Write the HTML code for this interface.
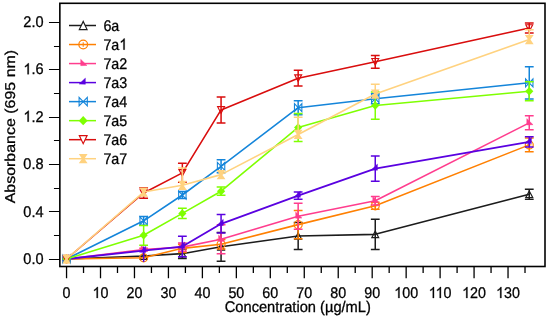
<!DOCTYPE html>
<html><head><meta charset="utf-8"><style>
html,body{margin:0;padding:0;background:#fff;}
svg{display:block;position:absolute;left:0;top:0;font-family:"Liberation Sans",sans-serif;font-size:15.4px;fill:#000;text-rendering:geometricPrecision;}
text{stroke:#000;stroke-width:0.3px;}
</style></head><body>
<svg width="550" height="320" viewBox="0 0 550 320">
<rect width="550" height="320" fill="#fff"/>
<g opacity="0.999">
<path d="M66.55,266.5 v11.7 M83.53,266.5 v6.5 M100.51,266.5 v11.7 M117.49,266.5 v6.5 M134.47,266.5 v11.7 M151.45,266.5 v6.5 M168.43,266.5 v11.7 M185.41,266.5 v6.5 M202.39,266.5 v11.7 M219.37,266.5 v6.5 M236.35,266.5 v11.7 M253.33,266.5 v6.5 M270.31,266.5 v11.7 M287.29,266.5 v6.5 M304.27,266.5 v11.7 M321.25,266.5 v6.5 M338.23,266.5 v11.7 M355.21,266.5 v6.5 M372.19,266.5 v11.7 M389.17,266.5 v6.5 M406.15,266.5 v11.7 M423.13,266.5 v6.5 M440.11,266.5 v11.7 M457.09,266.5 v6.5 M474.07,266.5 v11.7 M491.05,266.5 v6.5 M508.03,266.5 v11.7 M525.01,266.5 v6.5" stroke="#000" stroke-width="1.3" fill="none"/>
<path d="M59.85,259.50 h-10.9 M59.85,235.50 h-5.9 M59.85,211.50 h-10.9 M59.85,188.50 h-5.9 M59.85,164.50 h-10.9 M59.85,140.50 h-5.9 M59.85,117.50 h-10.9 M59.85,93.50 h-5.9 M59.85,69.50 h-10.9 M59.85,46.50 h-5.9 M59.85,22.50 h-10.9" stroke="#000" stroke-width="1.05" fill="none"/>
<text transform="translate(66.55,298.00) scale(0.93,1)" text-anchor="middle">0</text>
<g aria-label="10"><path transform="translate(92.54,298.00) scale(0.00699,-0.00752)" d="M763 0H583V1147Q518 1085 412.5 1023T223 930V1104Q373 1174.5 485 1275T647 1466H763Z" fill="#000" stroke="#000" stroke-width="40"/><text transform="translate(100.51,298.00) scale(0.93,1)">0</text></g>
<text transform="translate(134.47,298.00) scale(0.93,1)" text-anchor="middle">20</text>
<text transform="translate(168.43,298.00) scale(0.93,1)" text-anchor="middle">30</text>
<text transform="translate(202.39,298.00) scale(0.93,1)" text-anchor="middle">40</text>
<text transform="translate(236.35,298.00) scale(0.93,1)" text-anchor="middle">50</text>
<text transform="translate(270.31,298.00) scale(0.93,1)" text-anchor="middle">60</text>
<text transform="translate(304.27,298.00) scale(0.93,1)" text-anchor="middle">70</text>
<text transform="translate(338.23,298.00) scale(0.93,1)" text-anchor="middle">80</text>
<text transform="translate(372.19,298.00) scale(0.93,1)" text-anchor="middle">90</text>
<g aria-label="100"><path transform="translate(394.20,298.00) scale(0.00699,-0.00752)" d="M763 0H583V1147Q518 1085 412.5 1023T223 930V1104Q373 1174.5 485 1275T647 1466H763Z" fill="#000" stroke="#000" stroke-width="40"/><text transform="translate(402.17,298.00) scale(0.93,1)">00</text></g>
<g aria-label="110"><path transform="translate(428.69,298.00) scale(0.00699,-0.00752)" d="M763 0H583V1147Q518 1085 412.5 1023T223 930V1104Q373 1174.5 485 1275T647 1466H763Z" fill="#000" stroke="#000" stroke-width="40"/><path transform="translate(435.60,298.00) scale(0.00699,-0.00752)" d="M763 0H583V1147Q518 1085 412.5 1023T223 930V1104Q373 1174.5 485 1275T647 1466H763Z" fill="#000" stroke="#000" stroke-width="40"/><text transform="translate(443.56,298.00) scale(0.93,1)">0</text></g>
<g aria-label="120"><path transform="translate(462.12,298.00) scale(0.00699,-0.00752)" d="M763 0H583V1147Q518 1085 412.5 1023T223 930V1104Q373 1174.5 485 1275T647 1466H763Z" fill="#000" stroke="#000" stroke-width="40"/><text transform="translate(470.09,298.00) scale(0.93,1)">20</text></g>
<g aria-label="130"><path transform="translate(496.08,298.00) scale(0.00699,-0.00752)" d="M763 0H583V1147Q518 1085 412.5 1023T223 930V1104Q373 1174.5 485 1275T647 1466H763Z" fill="#000" stroke="#000" stroke-width="40"/><text transform="translate(504.05,298.00) scale(0.93,1)">30</text></g>
<text transform="translate(43.60,263.90) scale(0.945,1)" text-anchor="end">0.0</text>
<text transform="translate(43.60,216.50) scale(0.945,1)" text-anchor="end">0.4</text>
<text transform="translate(43.60,169.10) scale(0.945,1)" text-anchor="end">0.8</text>
<g aria-label="1.2"><path transform="translate(23.37,121.70) scale(0.00711,-0.00752)" d="M763 0H583V1147Q518 1085 412.5 1023T223 930V1104Q373 1174.5 485 1275T647 1466H763Z" fill="#000" stroke="#000" stroke-width="40"/><text transform="translate(31.46,121.70) scale(0.945,1)">.2</text></g>
<g aria-label="1.6"><path transform="translate(23.37,74.30) scale(0.00711,-0.00752)" d="M763 0H583V1147Q518 1085 412.5 1023T223 930V1104Q373 1174.5 485 1275T647 1466H763Z" fill="#000" stroke="#000" stroke-width="40"/><text transform="translate(31.46,74.30) scale(0.945,1)">.6</text></g>
<text transform="translate(43.60,26.90) scale(0.945,1)" text-anchor="end">2.0</text>
<text transform="translate(297.80,311.90) scale(0.952,1)" text-anchor="middle">Concentration (µg/mL)</text>
<text transform="translate(14.8,126.6) scale(0.93,1.037) rotate(-90)" text-anchor="middle">Absorbance (695 nm)</text>
<polyline points="66.55,259.00 143.64,256.04 182.35,253.67 221.07,246.79 298.16,236.01 375.25,234.35 529.25,194.18" fill="none" stroke="#1c1c1c" stroke-width="1.6" stroke-linejoin="round"/>
<path d="M63.10,262.28 L70.00,262.28 L66.55,255.72 Z" fill="none" stroke="#1c1c1c" stroke-width="1.15"/>
<path d="M140.19,259.32 L147.09,259.32 L143.64,252.76 Z" fill="none" stroke="#1c1c1c" stroke-width="1.15"/>
<path d="M178.90,256.95 L185.80,256.95 L182.35,250.39 Z" fill="none" stroke="#1c1c1c" stroke-width="1.15"/>
<path d="M217.62,250.07 L224.52,250.07 L221.07,243.51 Z" fill="none" stroke="#1c1c1c" stroke-width="1.15"/>
<path d="M294.71,239.29 L301.61,239.29 L298.16,232.73 Z" fill="none" stroke="#1c1c1c" stroke-width="1.15"/>
<path d="M371.80,237.63 L378.70,237.63 L375.25,231.07 Z" fill="none" stroke="#1c1c1c" stroke-width="1.15"/>
<path d="M525.80,197.46 L532.71,197.46 L529.25,190.90 Z" fill="none" stroke="#1c1c1c" stroke-width="1.15"/>
<path d="M182.35,248.93 V258.41 M177.95,248.93 h8.8 M177.95,258.41 h8.8 M221.07,232.46 V261.13 M216.67,232.46 h8.8 M216.67,261.13 h8.8 M298.16,222.62 V249.40 M293.76,222.62 h8.8 M293.76,249.40 h8.8 M375.25,219.18 V249.52 M370.85,219.18 h8.8 M370.85,249.52 h8.8 M529.25,189.20 V199.16 M524.86,189.20 h8.8 M524.86,199.16 h8.8" stroke="#1c1c1c" stroke-width="1.5" fill="none"/>
<polyline points="66.55,259.00 143.64,257.81 182.35,248.34 221.07,244.19 298.16,224.63 375.25,205.79 529.25,144.88" fill="none" stroke="#FF8000" stroke-width="1.6" stroke-linejoin="round"/>
<circle cx="66.55" cy="259.00" r="4.0" fill="none" stroke="#FF8000" stroke-width="1.2"/><path d="M66.55,256.70 V261.30 M64.25,259.00 H68.85" stroke="#FF8000" stroke-width="1"/>
<circle cx="143.64" cy="257.81" r="4.0" fill="none" stroke="#FF8000" stroke-width="1.2"/><path d="M143.64,255.51 V260.12 M141.34,257.81 H145.94" stroke="#FF8000" stroke-width="1"/>
<circle cx="182.35" cy="248.34" r="4.0" fill="none" stroke="#FF8000" stroke-width="1.2"/><path d="M182.35,246.03 V250.64 M180.05,248.34 H184.65" stroke="#FF8000" stroke-width="1"/>
<circle cx="221.07" cy="244.19" r="4.0" fill="none" stroke="#FF8000" stroke-width="1.2"/><path d="M221.07,241.89 V246.49 M218.77,244.19 H223.37" stroke="#FF8000" stroke-width="1"/>
<circle cx="298.16" cy="224.63" r="4.0" fill="none" stroke="#FF8000" stroke-width="1.2"/><path d="M298.16,222.33 V226.94 M295.86,224.63 H300.46" stroke="#FF8000" stroke-width="1"/>
<circle cx="375.25" cy="205.79" r="4.0" fill="none" stroke="#FF8000" stroke-width="1.2"/><path d="M375.25,203.49 V208.09 M372.95,205.79 H377.55" stroke="#FF8000" stroke-width="1"/>
<circle cx="529.25" cy="144.88" r="4.0" fill="none" stroke="#FF8000" stroke-width="1.2"/><path d="M529.25,142.58 V147.18 M526.96,144.88 H531.55" stroke="#FF8000" stroke-width="1"/>
<path d="M182.35,244.19 V252.48 M177.95,244.19 h8.8 M177.95,252.48 h8.8 M221.07,239.45 V248.93 M216.67,239.45 h8.8 M216.67,248.93 h8.8 M298.16,210.42 V238.85 M293.76,210.42 h8.8 M293.76,238.85 h8.8 M375.25,202.24 V209.35 M370.85,202.24 h8.8 M370.85,209.35 h8.8 M529.25,138.01 V151.76 M524.86,138.01 h8.8 M524.86,151.76 h8.8" stroke="#FF8000" stroke-width="1.5" fill="none"/>
<polyline points="66.55,259.00 143.64,249.52 182.35,247.15 221.07,239.33 298.16,216.22 375.25,200.70 529.25,122.84" fill="none" stroke="#FF3D8E" stroke-width="1.6" stroke-linejoin="round"/>
<path d="M64.05,254.70 L64.05,261.10 L70.35,260.90 Z" fill="#FF3D8E" stroke="#FF3D8E" stroke-width="0.4"/>
<path d="M141.14,245.22 L141.14,251.62 L147.44,251.42 Z" fill="#FF3D8E" stroke="#FF3D8E" stroke-width="0.4"/>
<path d="M179.85,242.85 L179.85,249.25 L186.15,249.05 Z" fill="#FF3D8E" stroke="#FF3D8E" stroke-width="0.4"/>
<path d="M218.57,235.03 L218.57,241.43 L224.87,241.23 Z" fill="#FF3D8E" stroke="#FF3D8E" stroke-width="0.4"/>
<path d="M295.66,211.92 L295.66,218.32 L301.96,218.12 Z" fill="#FF3D8E" stroke="#FF3D8E" stroke-width="0.4"/>
<path d="M372.75,196.40 L372.75,202.80 L379.05,202.60 Z" fill="#FF3D8E" stroke="#FF3D8E" stroke-width="0.4"/>
<path d="M526.75,118.54 L526.75,124.94 L533.05,124.74 Z" fill="#FF3D8E" stroke="#FF3D8E" stroke-width="0.4"/>
<path d="M143.64,248.34 V250.71 M139.24,248.34 h8.8 M139.24,250.71 h8.8 M182.35,243.00 V251.30 M177.95,243.00 h8.8 M177.95,251.30 h8.8 M221.07,224.87 V253.79 M216.67,224.87 h8.8 M216.67,253.79 h8.8 M298.16,203.19 V229.26 M293.76,203.19 h8.8 M293.76,229.26 h8.8 M375.25,196.43 V204.96 M370.85,196.43 h8.8 M370.85,204.96 h8.8 M529.25,115.85 V129.83 M524.86,115.85 h8.8 M524.86,129.83 h8.8" stroke="#FF3D8E" stroke-width="1.5" fill="none"/>
<polyline points="66.55,259.00 143.64,250.71 182.35,246.56 221.07,223.81 298.16,195.60 375.25,168.58 529.25,141.80" fill="none" stroke="#5A00E0" stroke-width="1.8" stroke-linejoin="round"/>
<path d="M68.75,254.50 L68.75,260.70 L62.45,260.50 Z" fill="#5A00E0" stroke="#5A00E0" stroke-width="0.4"/>
<path d="M145.84,246.21 L145.84,252.41 L139.54,252.21 Z" fill="#5A00E0" stroke="#5A00E0" stroke-width="0.4"/>
<path d="M184.55,242.06 L184.55,248.26 L178.25,248.06 Z" fill="#5A00E0" stroke="#5A00E0" stroke-width="0.4"/>
<path d="M223.27,219.31 L223.27,225.51 L216.97,225.31 Z" fill="#5A00E0" stroke="#5A00E0" stroke-width="0.4"/>
<path d="M300.36,191.10 L300.36,197.30 L294.06,197.10 Z" fill="#5A00E0" stroke="#5A00E0" stroke-width="0.4"/>
<path d="M377.45,164.08 L377.45,170.28 L371.15,170.08 Z" fill="#5A00E0" stroke="#5A00E0" stroke-width="0.4"/>
<path d="M531.46,137.30 L531.46,143.50 L525.15,143.30 Z" fill="#5A00E0" stroke="#5A00E0" stroke-width="0.4"/>
<path d="M143.64,246.56 V261.96 M182.35,236.25 V256.87 M177.95,236.25 h8.8 M177.95,256.87 h8.8 M221.07,214.56 V233.05 M216.67,214.56 h8.8 M216.67,233.05 h8.8 M298.16,192.05 V199.16 M293.76,192.05 h8.8 M293.76,199.16 h8.8 M375.25,156.02 V181.15 M370.85,156.02 h8.8 M370.85,181.15 h8.8 M529.25,136.71 V146.90 M524.86,136.71 h8.8 M524.86,146.90 h8.8" stroke="#5A00E0" stroke-width="1.5" fill="none"/>
<polyline points="66.55,259.00 143.64,220.84 182.35,195.01 221.07,166.33 298.16,107.68 375.25,98.67 529.25,82.79" fill="none" stroke="#1485DA" stroke-width="1.6" stroke-linejoin="round"/>
<path d="M62.85,255.00 L62.85,263.00 L70.25,255.00 L70.25,263.00 Z" fill="none" stroke="#1485DA" stroke-width="1.1"/>
<path d="M139.94,216.84 L139.94,224.84 L147.34,216.84 L147.34,224.84 Z" fill="none" stroke="#1485DA" stroke-width="1.1"/>
<path d="M178.65,191.01 L178.65,199.01 L186.05,191.01 L186.05,199.01 Z" fill="none" stroke="#1485DA" stroke-width="1.1"/>
<path d="M217.37,162.33 L217.37,170.33 L224.77,162.33 L224.77,170.33 Z" fill="none" stroke="#1485DA" stroke-width="1.1"/>
<path d="M294.46,103.68 L294.46,111.68 L301.86,103.68 L301.86,111.68 Z" fill="none" stroke="#1485DA" stroke-width="1.1"/>
<path d="M371.55,94.67 L371.55,102.67 L378.95,94.67 L378.95,102.67 Z" fill="none" stroke="#1485DA" stroke-width="1.1"/>
<path d="M525.55,78.79 L525.55,86.79 L532.96,78.79 L532.96,86.79 Z" fill="none" stroke="#1485DA" stroke-width="1.1"/>
<path d="M143.64,216.46 V225.23 M139.24,216.46 h8.8 M139.24,225.23 h8.8 M182.35,191.45 V198.56 M177.95,191.45 h8.8 M177.95,198.56 h8.8 M221.07,159.82 V172.85 M216.67,159.82 h8.8 M216.67,172.85 h8.8 M298.16,100.68 V114.67 M293.76,100.68 h8.8 M293.76,114.67 h8.8 M375.25,93.69 V103.65 M370.85,93.69 h8.8 M370.85,103.65 h8.8 M529.25,66.67 V98.91 M524.86,66.67 h8.8 M524.86,98.91 h8.8" stroke="#1485DA" stroke-width="1.5" fill="none"/>
<polyline points="66.55,259.00 143.64,235.30 182.35,213.38 221.07,191.22 298.16,127.46 375.25,105.54 529.25,91.32" fill="none" stroke="#7FFF00" stroke-width="1.6" stroke-linejoin="round"/>
<path d="M62.45,259.00 L66.55,254.80 L70.65,259.00 L66.55,263.20 Z" fill="#7FFF00"/>
<path d="M139.54,235.30 L143.64,231.10 L147.74,235.30 L143.64,239.50 Z" fill="#7FFF00"/>
<path d="M178.25,213.38 L182.35,209.18 L186.45,213.38 L182.35,217.58 Z" fill="#7FFF00"/>
<path d="M216.97,191.22 L221.07,187.02 L225.17,191.22 L221.07,195.42 Z" fill="#7FFF00"/>
<path d="M294.06,127.46 L298.16,123.26 L302.26,127.46 L298.16,131.66 Z" fill="#7FFF00"/>
<path d="M371.15,105.54 L375.25,101.34 L379.35,105.54 L375.25,109.74 Z" fill="#7FFF00"/>
<path d="M525.15,91.32 L529.25,87.12 L533.36,91.32 L529.25,95.52 Z" fill="#7FFF00"/>
<path d="M143.64,225.46 V245.14 M139.24,225.46 h8.8 M139.24,245.14 h8.8 M182.35,208.28 V218.47 M177.95,208.28 h8.8 M177.95,218.47 h8.8 M221.07,187.07 V195.37 M216.67,187.07 h8.8 M216.67,195.37 h8.8 M298.16,113.48 V141.45 M293.76,113.48 h8.8 M293.76,141.45 h8.8 M375.25,91.92 V119.17 M370.85,91.92 h8.8 M370.85,119.17 h8.8 M529.25,81.84 V100.80 M524.86,81.84 h8.8 M524.86,100.80 h8.8" stroke="#7FFF00" stroke-width="1.5" fill="none"/>
<polyline points="66.55,259.00 143.64,193.00 182.35,172.85 221.07,109.93 298.16,78.17 375.25,61.82 529.25,28.04" fill="none" stroke="#D90D0D" stroke-width="1.6" stroke-linejoin="round"/>
<path d="M63.10,255.72 L70.00,255.72 L66.55,262.28 Z" fill="none" stroke="#D90D0D" stroke-width="1.15"/>
<path d="M140.19,189.72 L147.09,189.72 L143.64,196.28 Z" fill="none" stroke="#D90D0D" stroke-width="1.15"/>
<path d="M178.90,169.57 L185.80,169.57 L182.35,176.13 Z" fill="none" stroke="#D90D0D" stroke-width="1.15"/>
<path d="M217.62,106.65 L224.52,106.65 L221.07,113.21 Z" fill="none" stroke="#D90D0D" stroke-width="1.15"/>
<path d="M294.71,74.89 L301.61,74.89 L298.16,81.45 Z" fill="none" stroke="#D90D0D" stroke-width="1.15"/>
<path d="M371.80,58.54 L378.70,58.54 L375.25,65.10 Z" fill="none" stroke="#D90D0D" stroke-width="1.15"/>
<path d="M525.80,24.76 L532.71,24.76 L529.25,31.32 Z" fill="none" stroke="#D90D0D" stroke-width="1.15"/>
<path d="M143.64,187.66 V198.33 M139.24,187.66 h8.8 M139.24,198.33 h8.8 M182.35,163.37 V182.33 M177.95,163.37 h8.8 M177.95,182.33 h8.8 M221.07,96.89 V122.96 M216.67,96.89 h8.8 M216.67,122.96 h8.8 M298.16,70.35 V85.99 M293.76,70.35 h8.8 M293.76,85.99 h8.8 M375.25,55.42 V68.22 M370.85,55.42 h8.8 M370.85,68.22 h8.8 M529.25,23.07 V33.02 M524.86,23.07 h8.8 M524.86,33.02 h8.8" stroke="#D90D0D" stroke-width="1.5" fill="none"/>
<polyline points="66.55,259.00 143.64,192.05 182.35,185.29 221.07,174.63 298.16,134.46 375.25,94.05 529.25,39.54" fill="none" stroke="#FFD27F" stroke-width="1.6" stroke-linejoin="round"/>
<path d="M62.15,254.40 L70.95,254.40 L67.75,259.00 L70.95,263.60 L62.15,263.60 L65.35,259.00 Z" fill="#FFD27F"/>
<path d="M139.24,187.45 L148.04,187.45 L144.84,192.05 L148.04,196.65 L139.24,196.65 L142.44,192.05 Z" fill="#FFD27F"/>
<path d="M177.95,180.69 L186.75,180.69 L183.55,185.29 L186.75,189.89 L177.95,189.89 L181.15,185.29 Z" fill="#FFD27F"/>
<path d="M216.67,170.03 L225.47,170.03 L222.27,174.63 L225.47,179.23 L216.67,179.23 L219.87,174.63 Z" fill="#FFD27F"/>
<path d="M293.76,129.86 L302.56,129.86 L299.36,134.46 L302.56,139.06 L293.76,139.06 L296.96,134.46 Z" fill="#FFD27F"/>
<path d="M370.85,89.45 L379.65,89.45 L376.45,94.05 L379.65,98.65 L370.85,98.65 L374.05,94.05 Z" fill="#FFD27F"/>
<path d="M524.86,34.94 L533.65,34.94 L530.46,39.54 L533.65,44.14 L524.86,44.14 L528.05,39.54 Z" fill="#FFD27F"/>
<path d="M182.35,167.99 V185.29 M177.95,167.99 h8.8 M298.16,117.27 V134.46 M293.76,117.27 h8.8 M375.25,84.21 V94.05 M370.85,84.21 h8.8 M529.25,29.70 V39.54 M524.86,29.70 h8.8" stroke="#FFD27F" stroke-width="1.5" fill="none"/>
<rect x="59.85" y="3.3" width="485.15" height="263.2" fill="none" stroke="#000" stroke-width="1.6"/>
<path d="M69,25.50 H96" stroke="#1c1c1c" stroke-width="1.5"/>
<path d="M79.30,29.60 L87.10,29.60 L83.20,21.40 Z" fill="#fff" stroke="#1c1c1c" stroke-width="1.15"/>
<text transform="translate(103.40,30.60) scale(0.93,1)" text-anchor="start">6a</text>
<path d="M69,44.53 H96" stroke="#FF8000" stroke-width="1.5"/>
<circle cx="83.20" cy="44.53" r="4.35" fill="none" stroke="#FF8000" stroke-width="1.2"/><path d="M83.20,42.23 V46.83 M80.90,44.53 H85.50" stroke="#FF8000" stroke-width="1"/>
<g aria-label="7a1"><text transform="translate(103.40,49.63) scale(0.93,1)">7a</text><path transform="translate(119.33,49.63) scale(0.00699,-0.00752)" d="M763 0H583V1147Q518 1085 412.5 1023T223 930V1104Q373 1174.5 485 1275T647 1466H763Z" fill="#000" stroke="#000" stroke-width="40"/></g>
<path d="M69,63.56 H96" stroke="#FF3D8E" stroke-width="1.5"/>
<path d="M80.70,59.26 L80.70,65.66 L87.00,65.46 Z" fill="#FF3D8E" stroke="#FF3D8E" stroke-width="0.4"/>
<text transform="translate(103.40,68.66) scale(0.93,1)" text-anchor="start">7a2</text>
<path d="M69,82.59 H96" stroke="#5A00E0" stroke-width="1.5"/>
<path d="M85.40,78.09 L85.40,84.29 L79.10,84.09 Z" fill="#5A00E0" stroke="#5A00E0" stroke-width="0.4"/>
<text transform="translate(103.40,87.69) scale(0.93,1)" text-anchor="start">7a3</text>
<path d="M69,101.62 H96" stroke="#1485DA" stroke-width="1.5"/>
<path d="M79.10,97.42 L79.10,105.82 L87.30,97.42 L87.30,105.82 Z" fill="none" stroke="#1485DA" stroke-width="1.1"/>
<text transform="translate(103.40,106.72) scale(0.93,1)" text-anchor="start">7a4</text>
<path d="M69,120.65 H96" stroke="#7FFF00" stroke-width="1.5"/>
<path d="M78.80,120.65 L83.20,115.95 L87.60,120.65 L83.20,125.35 Z" fill="#7FFF00"/>
<text transform="translate(103.40,125.75) scale(0.93,1)" text-anchor="start">7a5</text>
<path d="M69,139.68 H96" stroke="#D90D0D" stroke-width="1.5"/>
<path d="M79.30,135.58 L87.10,135.58 L83.20,143.78 Z" fill="#fff" stroke="#D90D0D" stroke-width="1.15"/>
<text transform="translate(103.40,144.78) scale(0.93,1)" text-anchor="start">7a6</text>
<path d="M69,158.71 H96" stroke="#FFD27F" stroke-width="1.5"/>
<path d="M78.80,154.11 L87.60,154.11 L84.40,158.71 L87.60,163.31 L78.80,163.31 L82.00,158.71 Z" fill="#FFD27F"/>
<text transform="translate(103.40,163.81) scale(0.93,1)" text-anchor="start">7a7</text>
</g>
</svg></body></html>
